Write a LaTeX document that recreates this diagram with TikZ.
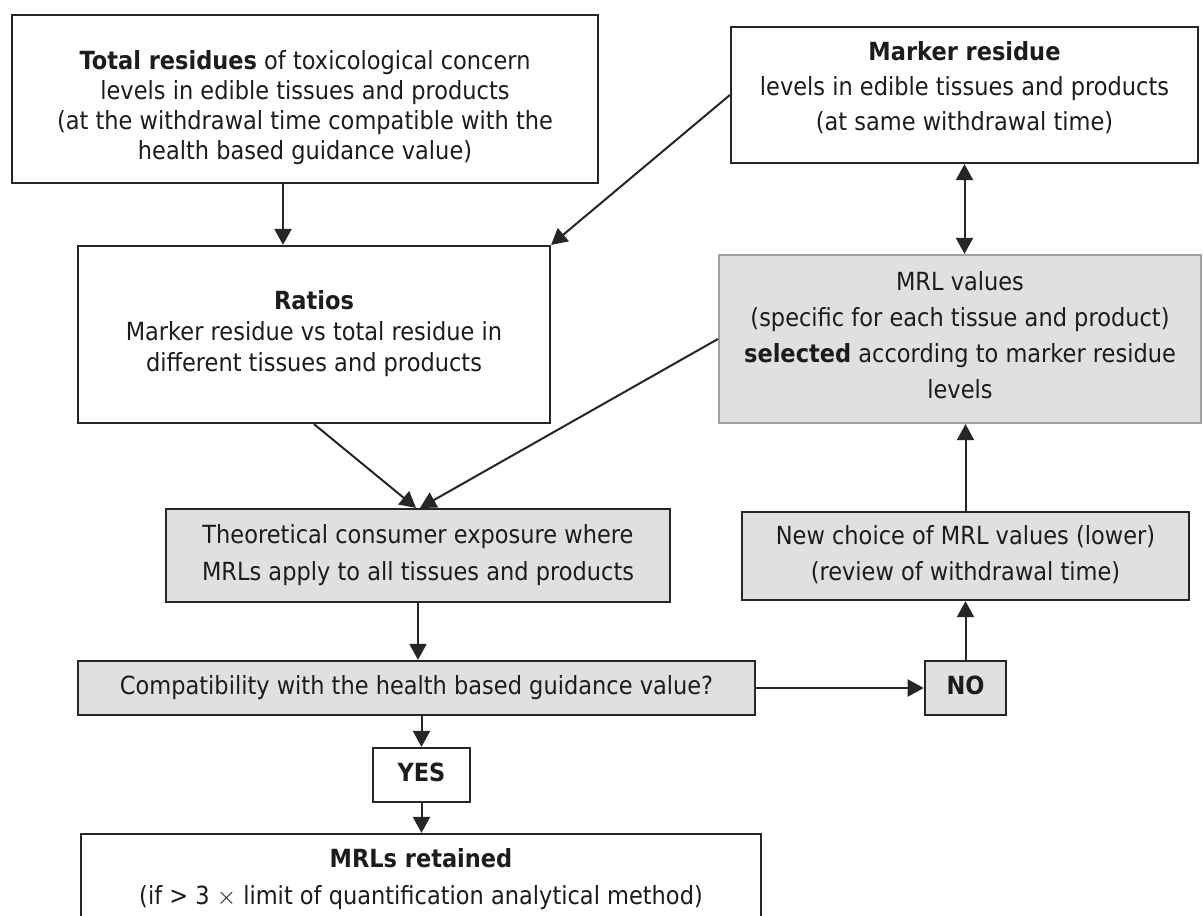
\documentclass[tikz,border=0pt]{standalone}
\usepackage{fontspec}
\setmainfont{DejaVu Sans}[FakeStretch=0.9]
\usetikzlibrary{arrows.meta,calc}
\definecolor{linec}{HTML}{262626}
\definecolor{greyc}{HTML}{DFE0E2}
\definecolor{lightborder}{HTML}{A0A0A0}
\definecolor{textc}{HTML}{1F1B1C}
\newcommand{\tb}[2]{\raisebox{#1}[\height][\depth]{\begin{tabular}{@{}c@{}}#2\end{tabular}}}
\begin{document}
\begin{tikzpicture}[x=1pt,y=-1pt,
  box/.style={draw=linec,line width=2.2pt,fill=white,inner sep=0pt,text=textc,rectangle},
  greybox/.style={box,fill=greyc},
  arr/.style={draw=linec,line width=2pt,-{Triangle[length=16pt,width=17pt]}},
  darr/.style={draw=linec,line width=2pt,{Triangle[length=16pt,width=17pt]}-{Triangle[length=16pt,width=17pt]}},
  fs/.style={font=\fontsize{25}{#1}\selectfont}
]
\clip (0,0) rectangle (1203,916);
\fill[white] (0,0) rectangle (1203,916);

\node[box,fs=30,minimum width=586pt,minimum height=168pt] (tot) at (305,99)
  {\tb{-9pt}{\textbf{Total residues} of toxicological concern\\levels in edible tissues and products\\(at the withdrawal time compatible with the\\health based guidance value)}};

\node[box,fs=35,minimum width=467pt,minimum height=136pt] (mark) at (964.5,95)
  {\tb{7pt}{\textbf{Marker residue}\\levels in edible tissues and products\\(at same withdrawal time)}};

\node[box,fs=31,minimum width=472pt,minimum height=177pt] (ratios) at (314,334.5)
  {\tb{0pt}{\textbf{Ratios}\\Marker residue vs total residue in\\different tissues and products}};

\node[greybox,draw=lightborder,fs=36,minimum width=482pt,minimum height=168pt] (mrl) at (960,339)
  {\tb{2pt}{MRL values\\(specific for each tissue and product)\\\textbf{selected} according to marker residue\\levels}};

\node[greybox,fs=37,minimum width=504pt,minimum height=93pt] (theo) at (418,555.5)
  {\tb{1pt}{Theoretical consumer exposure where\\MRLs apply to all tissues and products}};

\node[greybox,fs=36,minimum width=447pt,minimum height=88pt] (nc) at (965.5,556)
  {\tb{1pt}{New choice of MRL values (lower)\\(review of withdrawal time)}};

\node[greybox,fs=30,minimum width=677pt,minimum height=54pt] (comp) at (416.5,688)
  {\tb{0pt}{Compatibility with the health based guidance value?}};

\node[greybox,line width=2.6pt,fs=30,minimum width=81pt,minimum height=54pt] (no) at (965.5,688)
  {\tb{0pt}{\textbf{NO}}};

\node[box,fs=30,minimum width=97pt,minimum height=54pt] (yes) at (421.5,775)
  {\tb{0pt}{\textbf{YES}}};

\node[box,fs=37,minimum width=680pt,minimum height=132pt] (ret) at (421,900)
  {\tb{21pt}{\textbf{MRLs retained}\\(if > 3 $\times$ limit of quantification analytical method)}};

% connectors
\draw[arr] ([xshift=-22pt]tot.south) -- ([xshift=-31pt]ratios.north);
\draw[arr] (mark.west) -- (ratios.north east);
\draw[darr] (mark.south) -- (mark.south |- mrl.north);
\draw[arr] (ratios.south) -- ([xshift=-2pt]theo.north);
\draw[arr] (mrl.west) -- ([xshift=2pt]theo.north);
\draw[arr] (theo.south) -- (theo.south |- comp.north);
\draw[arr] (comp.east) -- (no.west);
\draw[arr] (no.north) -- (nc.south);
\draw[arr] (nc.north) -- (nc.north |- mrl.south);
\draw[arr] (yes.north |- comp.south) -- (yes.north);
\draw[arr] (yes.south) -- (yes.south |- ret.north);
\end{tikzpicture}
\end{document}
